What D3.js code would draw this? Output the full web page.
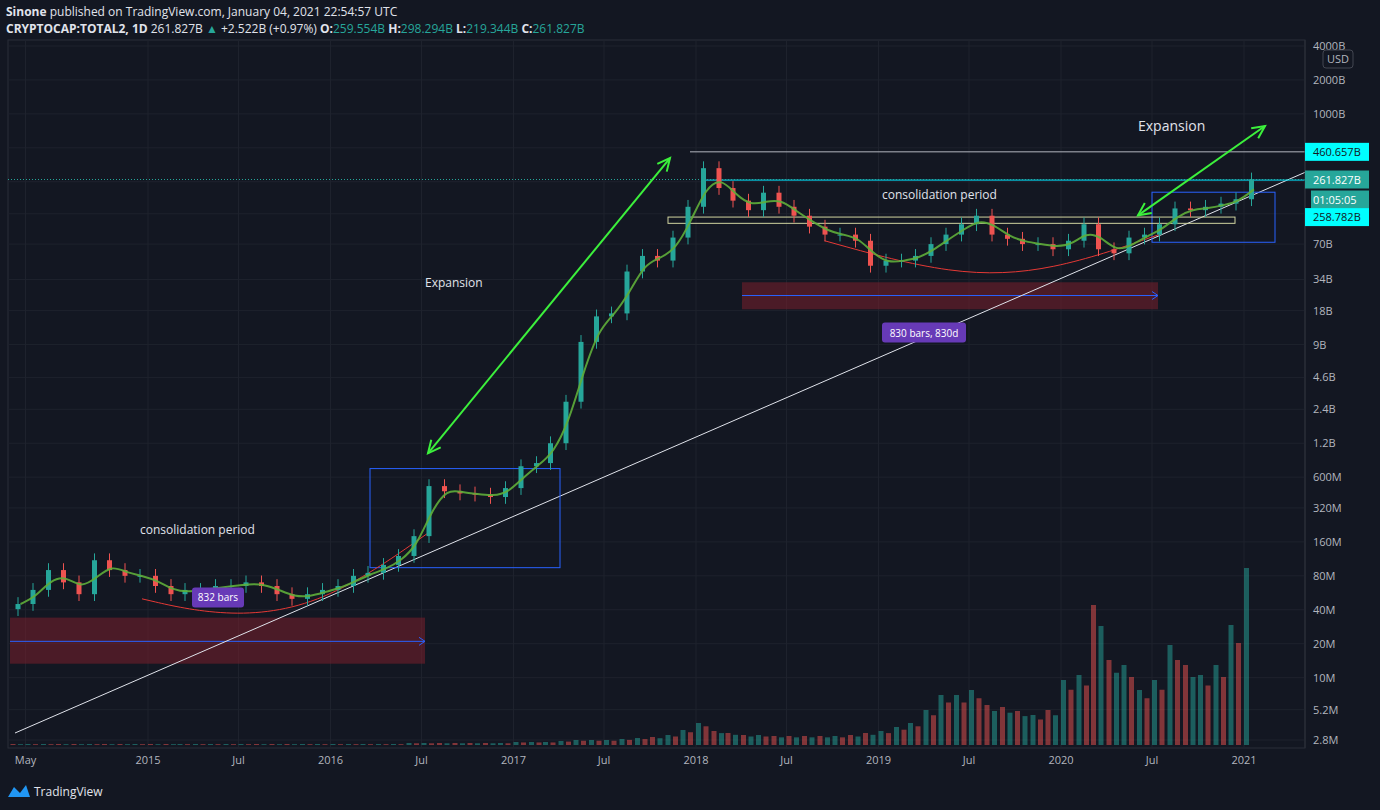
<!DOCTYPE html><html><head><meta charset="utf-8"><script src="https://cdn.jsdelivr.net/npm/d3@7"></script>
<style>body{margin:0;background:#131722;font-family:"Open Sans",Roboto,sans-serif}</style></head><body><svg id="c" width="1380" height="810"></svg>
<script>
const months=["2014-04","2014-05","2014-06","2014-07","2014-08","2014-09","2014-10","2014-11","2014-12","2015-01","2015-02","2015-03","2015-04","2015-05","2015-06","2015-07","2015-08","2015-09","2015-10","2015-11","2015-12","2016-01","2016-02","2016-03","2016-04","2016-05","2016-06","2016-07","2016-08","2016-09","2016-10","2016-11","2016-12","2017-01","2017-02","2017-03","2017-04","2017-05","2017-06","2017-07","2017-08","2017-09","2017-10","2017-11","2017-12","2018-01","2018-02","2018-03","2018-04","2018-05","2018-06","2018-07","2018-08","2018-09","2018-10","2018-11","2018-12","2019-01","2019-02","2019-03","2019-04","2019-05","2019-06","2019-07","2019-08","2019-09","2019-10","2019-11","2019-12","2020-01","2020-02","2020-03","2020-04","2020-05","2020-06","2020-07","2020-08","2020-09","2020-10","2020-11","2020-12","2021-01"];
const closeB=[0.045,0.06,0.09,0.07,0.055,0.11,0.09,0.08,0.08,0.065,0.055,0.06,0.06,0.065,0.065,0.07,0.065,0.055,0.05,0.055,0.06,0.065,0.08,0.085,0.1,0.12,0.18,0.5,0.45,0.43,0.42,0.4,0.48,0.75,0.8,1.2,2.8,9.5,16,17,40,55,50,80,150,330,220,170,140,200,150,125,100,85,85,75,45,50,50,55,70,85,105,125,85,78,70,70,63,75,105,63,58,80,85,105,145,140,150,160,175,262];
const volume=[1,1,1,1,1,1,1,1,1,1,1,1,1,1,1,1,1,1,1,1,1,1,1,1,1,1,2,2,2,2,2,2,2,3,3,3,4,5,5,5,6,7,8,10,15,22,14,12,10,10,9,9,9,9,9,10,12,14,18,22,35,50,50,55,40,38,34,30,35,65,70,140,85,80,55,65,100,80,70,80,120,177];
const yTicks=[4000e9,2000e9,1000e9,70e9,34e9,18e9,9e9,4.6e9,2.4e9,1.2e9,600e6,320e6,160e6,80e6,40e6,20e6,10e6,5.2e6,2.8e6];
const xTicks=[["2014-05-01","May"],["2015-01-01","2015"],["2015-07-01","Jul"],["2016-01-01","2016"],["2016-07-01","Jul"],["2017-01-01","2017"],["2017-07-01","Jul"],["2018-01-01","2018"],["2018-07-01","Jul"],["2019-01-01","2019"],["2019-07-01","Jul"],["2020-01-01","2020"],["2020-07-01","Jul"],["2021-01-01","2021"]];
const svg=d3.select("#c"),P=d3.timeParse("%Y-%m-%d"),M=d3.timeParse("%Y-%m");
const L=8,R=1305,T=40,B=748;
const x=d3.scaleTime().domain([P("2014-03-31"),P("2021-05-03")]).range([10,1305]);
const y=d3.scaleLog().domain([2.8e6,4000e9]).range([740,46]);
const fmt=v=>v>=1e9?(+(v/1e9).toPrecision(3))+"B":(+(v/1e6).toPrecision(3))+"M";
svg.append("rect").attr("x",L).attr("y",T).attr("width",R-L).attr("height",B-T).attr("fill","#131722").attr("stroke","#2a2e39");
const g=svg.append("g");
g.selectAll(".hg").data([...yTicks,500e9,250e9,130e9]).join("line").attr("x1",L).attr("x2",R).attr("y1",d=>y(d)).attr("y2",d=>y(d)).attr("stroke","#1e222d");
g.selectAll(".vg").data(xTicks).join("line").attr("x1",d=>x(P(d[0]))).attr("x2",d=>x(P(d[0]))).attr("y1",T).attr("y2",B).attr("stroke","#1e222d");
const vy=d3.scaleLinear().domain([0,177]).range([0,177]);
const md=months.map(M);
const vbars=[];volume.forEach((v,i)=>{const last=i==volume.length-1;[0,0.5].forEach((f,k)=>{if(last&&k==1)return;vbars.push({d:d3.timeDay.offset(md[i],last?0:f*30),v:v*(k?0.85:1),up:(k==0)===(i>0&&closeB[i]>=closeB[i-1])});});});
g.selectAll(".vol").data(vbars).join("rect").attr("x",d=>x(d.d)).attr("width",5)
 .attr("y",d=>745-vy(d.v)).attr("height",d=>vy(d.v)).attr("fill",d=>d.up?"#26a69a":"#ef5350").attr("opacity",0.5);
const box=(d1,d2,v1,v2,fill,stroke,op)=>g.append("rect").attr("x",x(P(d1))).attr("width",x(P(d2))-x(P(d1))).attr("y",y(v1)).attr("height",y(v2)-y(v1)).attr("fill",fill).attr("fill-opacity",op).attr("stroke",stroke);
box("2014-03-31","2016-07-08",0.0341e9,0.0133e9,"#7a1f2b","none",0.55);
box("2018-04-03","2020-07-13",32.1e9,18.5e9,"#7a1f2b","none",0.55);
const harrow=(d1,d2,v)=>{const yy=y(v);g.append("line").attr("x1",x(P(d1))).attr("x2",x(P(d2))).attr("y1",yy).attr("y2",yy).attr("stroke","#2962ff");g.append("path").attr("d",`M${x(P(d2))-6},${yy-4}L${x(P(d2))},${yy}L${x(P(d2))-6},${yy+4}`).attr("stroke","#2962ff").attr("fill","none");};
harrow("2014-03-31","2016-07-08",0.021e9);harrow("2018-04-03","2020-07-13",24.5e9);
g.append("line").attr("x1",x(P("2014-04-10"))).attr("y1",y(0.00323e9)).attr("x2",x(P("2021-05-03"))).attr("y2",y(303e9)).attr("stroke","#e0e3eb").attr("stroke-width",1);
box("2016-03-20","2017-04-04",0.715e9,0.0945e9,"none","#2962ff",1);
box("2020-07-01","2021-03-04",202e9,72.7e9,"none","#2962ff",1);
box("2017-11-06","2020-12-14",121.6e9,107e9,"none","#d1d4a0",1);
g.append("line").attr("x1",x(P("2017-12-20"))).attr("x2",R).attr("y1",y(460.657e9)).attr("y2",y(460.657e9)).attr("stroke","#b2b5be");
g.append("line").attr("x1",x(P("2018-01-19"))).attr("x2",R).attr("y1",y(258.782e9)).attr("y2",y(258.782e9)).attr("stroke","#00e5ff");
g.append("line").attr("x1",L).attr("x2",R).attr("y1",y(261.827e9)).attr("y2",y(261.827e9)).attr("stroke","#26a69a").attr("stroke-dasharray","1,2");
const arc=pts=>g.append("path").attr("d",d3.line().x(d=>x(P(d[0]))).y(d=>y(d[1])).curve(d3.curveBasis)(pts)).attr("fill","none").attr("stroke","#e53935");
arc([["2014-12-20",0.05e9],["2015-06-01",0.034e9],["2015-12-15",0.042e9],["2016-07-20",0.2e9]]);
arc([["2018-09-15",75e9],["2019-06-01",36e9],["2019-12-15",40e9],["2020-07-15",85e9]]);
const data=closeB.map((c,i)=>({d:md[i],o:(i?closeB[i-1]:c*0.9)*1e9,c:c*1e9}));
data.forEach(p=>{const up=p.c>=p.o,col=up?"#26a69a":"#ef5350",x0=x(d3.timeDay.offset(p.d,10)),w=5,cx=x0+w/2;
 const hi=Math.max(p.o,p.c)*1.15,lo=Math.min(p.o,p.c)*0.87;
 g.append("line").attr("x1",cx).attr("x2",cx).attr("y1",y(hi)).attr("y2",y(lo)).attr("stroke",col);
 g.append("rect").attr("x",x0).attr("width",w).attr("y",y(Math.max(p.o,p.c))).attr("height",Math.max(1,Math.abs(y(p.o)-y(p.c)))).attr("fill",col);});
const ma=data.map((p,i)=>({d:d3.timeDay.offset(p.d,20),v:Math.exp(d3.mean(data.slice(Math.max(0,i-1),i+1),q=>Math.log(q.c)))}));
g.append("path").attr("d",d3.line().x(d=>x(d.d)).y(d=>y(d.v)).curve(d3.curveBasis)(ma)).attr("fill","none").attr("stroke","#5fae3a").attr("stroke-width",2).attr("opacity",0.9);
const garrow=(a,b)=>{const x1=x(P(a[0])),y1=y(a[1]),x2=x(P(b[0])),y2=y(b[1]);g.append("line").attr("x1",x1).attr("y1",y1).attr("x2",x2).attr("y2",y2).attr("stroke","#3cf03c").attr("stroke-width",2);
 [[x1,y1,x2,y2],[x2,y2,x1,y1]].forEach(([ax,ay,bx,by])=>{const an=Math.atan2(by-ay,bx-ax),s=14;g.append("path").attr("d",`M${bx-s*Math.cos(an-0.45)},${by-s*Math.sin(an-0.45)}L${bx},${by}L${bx-s*Math.cos(an+0.45)},${by-s*Math.sin(an+0.45)}`).attr("stroke","#3cf03c").attr("stroke-width",2).attr("fill","none");});};
garrow(["2016-07-14",0.977e9],["2017-11-10",406e9]);garrow(["2020-06-03",126e9],["2021-02-12",780e9]);
const txt=(d,v,s,size)=>g.append("text").attr("x",x(P(d))).attr("y",y(v)).attr("fill","#e0e3eb").attr("font-size",size).text(s);
txt("2016-07-08",29e9,"Expansion",12);txt("2020-06-03",703e9,"Expansion",14);
txt("2014-12-16",0.189e9,"consolidation period",12);txt("2019-01-08",175e9,"consolidation period",12);
const lab=(d,v,s,w)=>{const xx=x(P(d)),yy=y(v);g.append("rect").attr("x",xx).attr("y",yy-10).attr("width",w).attr("height",20).attr("rx",3).attr("fill","#673ab7");g.append("text").attr("x",xx+w/2).attr("y",yy+4).attr("text-anchor","middle").attr("fill","#fff").attr("font-size",10).text(s);};
lab("2015-03-30",0.0515e9,"832 bars",52);lab("2019-01-08",11.5e9,"830 bars, 830d",84);
svg.append("line").attr("x1",R).attr("x2",R).attr("y1",T).attr("y2",B).attr("stroke","#2a2e39");
svg.selectAll(".yt").data(yTicks).join("text").attr("x",1313).attr("y",d=>y(d)+4).attr("fill","#b2b5be").attr("font-size",11).text(fmt);
svg.append("rect").attr("x",1323).attr("y",50).attr("width",30).attr("height",18).attr("rx",3).attr("fill","none").attr("stroke","#434651");
svg.append("text").attr("x",1338).attr("y",63).attr("text-anchor","middle").attr("fill","#b2b5be").attr("font-size",11).text("USD");
const tag=(v,s,fill,dy,xo)=>{const yy=y(v)+(dy||0);svg.append("rect").attr("x",xo||1305).attr("y",yy-9).attr("width",1369-(xo||1305)).attr("height",18).attr("fill",fill);svg.append("text").attr("x",1313).attr("y",yy+4).attr("fill",fill=="#00ffff"?"#131722":"#fff").attr("font-size",11).text(s);};
tag(460.657e9,"460.657B","#00ffff");tag(261.827e9,"261.827B","#26a69a");tag(261.827e9,"01:05:05","#26a69a",20,1311);tag(258.782e9,"258.782B","#00ffff",37);
svg.selectAll(".xt").data(xTicks).join("text").attr("x",d=>x(P(d[0]))).attr("y",764).attr("text-anchor","middle").attr("fill","#b2b5be").attr("font-size",11).text(d=>d[1]);
svg.append("text").attr("x",6).attr("y",16).attr("fill","#e0e3eb").attr("font-size",12).html('<tspan font-weight="bold">Sinone</tspan> published on TradingView.com, January 04, 2021 22:54:57 UTC');
svg.append("text").attr("x",6).attr("y",33).attr("font-size",12).attr("fill","#e0e3eb").html('<tspan font-weight="bold">CRYPTOCAP:TOTAL2, 1D</tspan> 261.827B <tspan fill="#26a69a">▲</tspan> +2.522B (+0.97%) <tspan font-weight="bold">O:</tspan><tspan fill="#26a69a">259.554B</tspan> <tspan font-weight="bold">H:</tspan><tspan fill="#26a69a">298.294B</tspan> <tspan font-weight="bold">L:</tspan><tspan fill="#26a69a">219.344B</tspan> <tspan font-weight="bold">C:</tspan><tspan fill="#26a69a">261.827B</tspan>');
svg.append("path").attr("d","M8,797 L14,787 L20,793 L26,785 L30,797 Z").attr("fill","#2196f3");
svg.append("text").attr("x",34).attr("y",796).attr("fill","#e0e3eb").attr("font-size",12).text("TradingView");
</script></body></html>
